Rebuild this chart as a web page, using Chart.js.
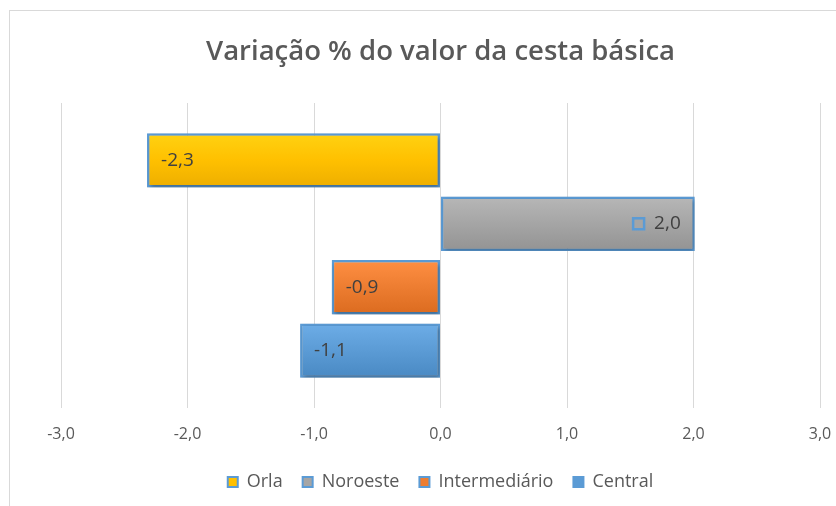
<!DOCTYPE html>
<html>
<head>
<meta charset="utf-8">
<script src="https://cdn.jsdelivr.net/npm/chart.js@4"></script>
<style>
  body { margin: 0; background: #fff; }
  #wrap { width: 836px; height: 506px; }
</style>
</head>
<body>
<div id="wrap"><canvas id="myChart" width="836" height="506"></canvas></div>
<script>
const categories = ["Variação"];
const seriesNames = ["Orla", "Noroeste", "Intermediário", "Central"];
const seriesValues = [-2.32, 2.01, -0.86, -1.11];
const seriesColors = ["#FFC000", "#A5A5A5", "#ED7D31", "#5B9BD5"];
const tickLabels = ["-3,0", "-2,0", "-1,0", "0,0", "1,0", "2,0", "3,0"];

const FONT = "'Open Sans', sans-serif";
const TEXT = "#595959";
const EDGE = "#5B9BD5";

function shade(hex, amt) {
  const n = parseInt(hex.slice(1), 16);
  let r = (n >> 16) + amt, g = ((n >> 8) & 255) + amt, b = (n & 255) + amt;
  r = Math.max(0, Math.min(255, r)); g = Math.max(0, Math.min(255, g)); b = Math.max(0, Math.min(255, b));
  return "rgb(" + r + "," + g + "," + b + ")";
}

// frame + gradients + shadow + value labels
const decor = {
  id: "decor",
  beforeDraw(chart) {
    const ctx = chart.ctx;
    ctx.save();
    ctx.strokeStyle = "#d9d9d9";
    ctx.lineWidth = 1;
    ctx.strokeRect(9.5, 10.5, 900, 600);
    ctx.restore();
  },
  beforeDatasetsDraw(chart) {
    const ctx = chart.ctx;
    chart.data.datasets.forEach((ds, i) => {
      chart.getDatasetMeta(i).data.forEach(el => {
        const h = el.height;
        const g = ctx.createLinearGradient(0, el.y - h / 2, 0, el.y + h / 2);
        g.addColorStop(0, shade(seriesColors[i], 18));
        g.addColorStop(0.5, seriesColors[i]);
        g.addColorStop(1, shade(seriesColors[i], -18));
        el.options.backgroundColor = g;
      });
    });
  },
  beforeDatasetDraw(chart) {
    const ctx = chart.ctx;
    ctx.save();
    ctx.shadowColor = "rgba(0,0,0,0.35)";
    ctx.shadowBlur = 4;
    ctx.shadowOffsetX = 1;
    ctx.shadowOffsetY = 2;
  },
  afterDatasetDraw(chart) {
    chart.ctx.restore();
  },
  afterDatasetsDraw(chart) {
    const ctx = chart.ctx;
    ctx.save();
    ctx.font = "19px " + FONT;
    ctx.fillStyle = "#404040";
    ctx.textBaseline = "middle";
    chart.data.datasets.forEach((ds, i) => {
      chart.getDatasetMeta(i).data.forEach((el, j) => {
        const v = ds.data[j];
        const txt = v.toFixed(1).replace(".", ",");
        if (v < 0) {
          ctx.textAlign = "left";
          ctx.fillText(txt, el.x + 14, el.y);
        } else {
          ctx.textAlign = "right";
          const tx = el.x - 14;
          ctx.fillText(txt, tx, el.y);
          const w = ctx.measureText(txt).width;
          // small legend key beside the label
          ctx.fillStyle = seriesColors[i];
          ctx.strokeStyle = EDGE;
          ctx.lineWidth = 2.5;
          ctx.fillRect(tx - w - 21, el.y - 5.5, 11, 11);
          ctx.strokeRect(tx - w - 21, el.y - 5.5, 11, 11);
          ctx.fillStyle = "#404040";
        }
      });
    });
    ctx.restore();
  }
};

const ctx = document.getElementById("myChart").getContext("2d");
new Chart(ctx, {
  type: "bar",
  data: {
    labels: categories,
    datasets: seriesNames.map((name, i) => ({
      label: name,
      data: [seriesValues[i]],
      backgroundColor: seriesColors[i],
      borderColor: EDGE,
      borderWidth: 2.5,
      borderSkipped: false,
      categoryPercentage: 0.832,
      barPercentage: 0.857
    }))
  },
  options: {
    indexAxis: "y",
    responsive: false,
    animation: false,
    layout: { padding: { left: 61, right: 16, top: 0, bottom: 5 } },
    scales: {
      x: {
        min: -3,
        max: 3,
        afterFit: (scale) => { scale.height = 45; },
        ticks: {
          stepSize: 1,
          color: TEXT,
          font: { family: FONT, size: 16 },
          padding: 4,
          callback: (v, idx) => tickLabels[idx]
        },
        grid: { color: "#d9d9d9", tickLength: 13, tickColor: "rgba(0,0,0,0)" },
        border: { display: false }
      },
      y: { display: false }
    },
    plugins: {
      title: {
        display: true,
        text: "Variação % do valor da cesta básica",
        color: TEXT,
        font: { family: FONT, size: 27.5, weight: "600" },
        padding: { top: 36, bottom: 34 }
      },
      legend: {
        position: "bottom",
        labels: {
          color: TEXT,
          font: { family: FONT, size: 18 },
          boxWidth: 10,
          boxHeight: 10,
          padding: 20,
          generateLabels: (chart) => chart.data.datasets.map((ds, i) => ({
            text: ds.label,
            fillStyle: seriesColors[i],
            strokeStyle: EDGE,
            lineWidth: 2,
            fontColor: TEXT,
            datasetIndex: i
          }))
        }
      },
      tooltip: { enabled: false }
    }
  },
  plugins: [decor]
});
</script>
</body>
</html>
